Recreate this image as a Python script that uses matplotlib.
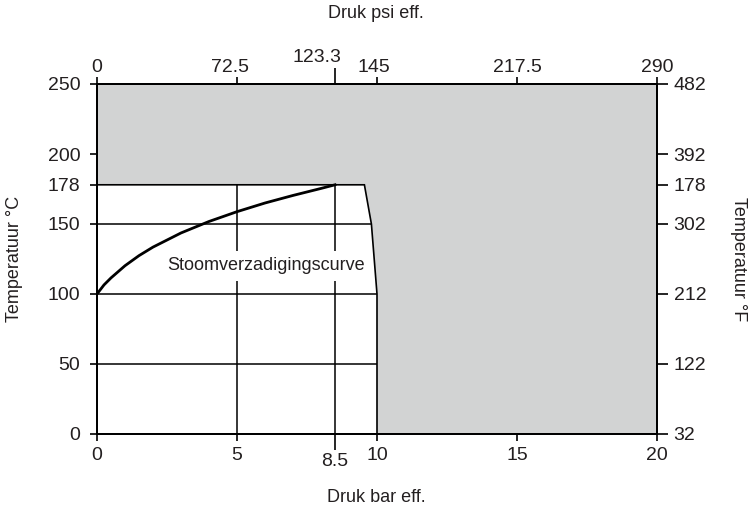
import matplotlib
matplotlib.use("Agg")
import matplotlib.pyplot as plt
from matplotlib.transforms import ScaledTranslation

plt.rcParams['font.family'] = ['Liberation Sans', 'DejaVu Sans']

# bar ticks and the matching psi labels on top
bar_ticks = [0, 5, 10, 15, 20]
psi_labels = ['0', '72.5', '145', '217.5', '290']
bar_mark = 8.5
psi_mark = '123.3'

# temperature ticks (degC) and right hand labels (degF)
temp_ticks = [0, 50, 100, 150, 178, 200, 250]
temp_labels_f = ['32', '122', '212', '302', '178', '392', '482']

# saturation curve
sat_bar = [0, 0.25, 0.5, 1, 1.5, 2, 3, 4, 5, 6, 7, 8, 8.5]
sat_temp = [100, 106.5, 111.5, 120.2, 127.4, 133.5, 143.6, 151.8, 158.8, 165, 170.4, 175.4, 178]

# outline of the allowed (white) working region
region_bar = [0, 10, 10, 9.8, 9.55, 0]
region_temp = [0, 0, 100, 150, 178, 178]

# inner grid
hgrid_temp = [50, 100, 150]
hgrid_end = [10, 10, 9.8]
vgrid_bar = [5, 8.5]

grey = '#d2d3d3'
txt = '#231f20'

fig = plt.figure(figsize=(7.52, 5.11), dpi=100)
ax = fig.add_axes([97/752, 1-434/511, 560/752, 350/511])
ax.set_facecolor(grey)
ax.set_xlim(0, 20)
ax.set_ylim(0, 250)

ax.fill(region_bar, region_temp, facecolor='white', edgecolor='black', lw=1.2, zorder=1)
ax.hlines(hgrid_temp, 0, hgrid_end, colors='black', lw=1.1, zorder=2)
ax.vlines(vgrid_bar, 0, 178, colors='black', lw=1.1, zorder=2)
ax.plot(sat_bar, sat_temp, color='black', lw=2.0, zorder=4)
ax.text(6.05, 120, 'Stoomverzadigingscurve', fontsize=13, color=txt, ha='center', va='center',
        zorder=3, bbox=dict(boxstyle='square,pad=0.38', facecolor='white', edgecolor='none'))

for s in ax.spines.values():
    s.set_linewidth(1.2)

ax.set_xticks(bar_ticks)
ax.set_xticklabels([str(b) for b in bar_ticks])
ax.set_xticks([bar_mark], minor=True)
ax.set_xticklabels(['8.5'], minor=True)
ax.set_yticks(temp_ticks)
ax.set_yticklabels([str(t) for t in temp_ticks])
ax.tick_params(axis='x', which='major', direction='out', length=5, width=1.2, pad=4.5,
               labelsize=14, labelcolor=txt)
ax.tick_params(axis='x', which='minor', direction='out', length=11.5, width=1.2, pad=2.4,
               labelsize=14, labelcolor=txt)
ax.tick_params(axis='y', direction='out', length=5, width=1.2, pad=7, labelsize=14, labelcolor=txt)
ax.tick_params(top=False, right=False, which='both')

# top axis in psi
axt = ax.twiny()
axt.set_xlim(0, 20)
axt.set_xticks(bar_ticks)
axt.set_xticklabels(psi_labels)
axt.set_xticks([bar_mark], minor=True)
axt.set_xticklabels([psi_mark], minor=True)
axt.tick_params(axis='x', which='major', direction='out', length=5, width=1.2, pad=0.5,
                labelsize=14, labelcolor=txt)
axt.tick_params(axis='x', which='minor', direction='out', length=11.5, width=1.2, pad=1.4,
                labelsize=14, labelcolor=txt)
for s in axt.spines.values():
    s.set_linewidth(1.2)

# the psi labels in the original sit a little left of their ticks
top_shift_px = {'72.5': -7, '145': -3, '123.3': -18}
for lab in axt.get_xticklabels() + axt.get_xticklabels(minor=True):
    dx = top_shift_px.get(lab.get_text(), 0)
    if dx:
        lab.set_transform(lab.get_transform() + ScaledTranslation(dx/100, 0, fig.dpi_scale_trans))

# right axis in Fahrenheit
axr = ax.twinx()
axr.set_ylim(0, 250)
axr.set_yticks(temp_ticks)
axr.set_yticklabels(temp_labels_f)
axr.tick_params(axis='y', direction='out', length=8, width=1.2, pad=4, labelsize=14, labelcolor=txt)
for s in axr.spines.values():
    s.set_linewidth(1.2)

fig.text(376/752, 1-14/511, 'Druk psi eff.', fontsize=13, color=txt, ha='center', va='center')
fig.text(376/752, 1-498/511, 'Druk bar eff.', fontsize=13, color=txt, ha='center', va='center')
fig.text(15/752, 1-259/511, 'Temperatuur °C', fontsize=13, color=txt, ha='center', va='center',
         rotation=90)
fig.text(738/752, 1-259/511, 'Temperatuur °F', fontsize=13, color=txt, ha='center', va='center',
         rotation=270)

fig.savefig('out.png', dpi=100)
